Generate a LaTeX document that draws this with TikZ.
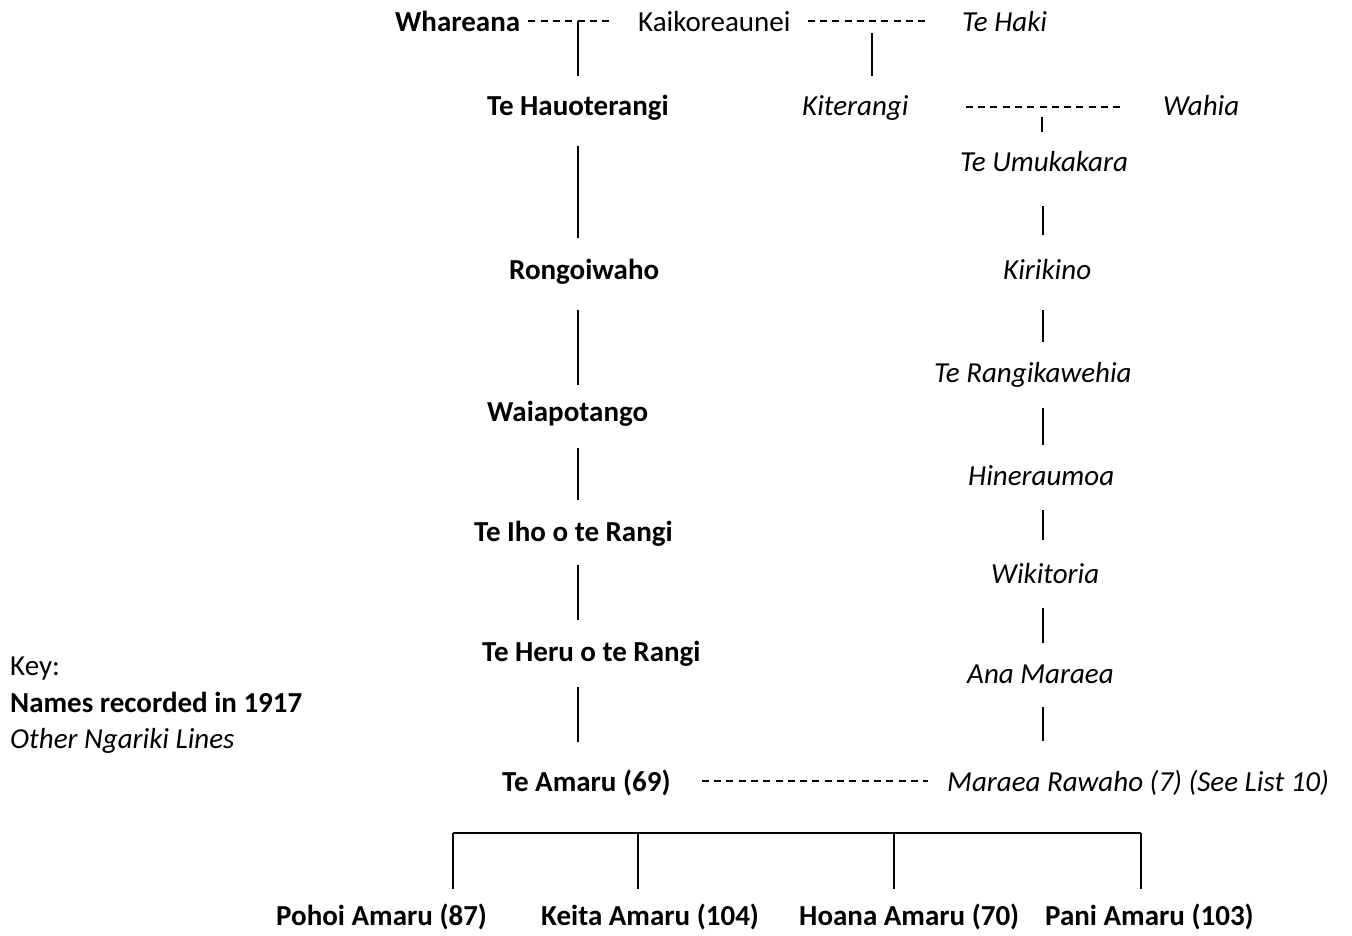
\documentclass[tikz,border=0pt]{standalone}
\usepackage{fontspec}
\setmainfont{Carlito}
\usetikzlibrary{calc}
\begin{document}
\begin{tikzpicture}[x=1pt,y=1pt,
  every node/.style={inner sep=0pt,anchor=base west,font=\fontsize{29}{36}\selectfont},
  rec/.style={font=\fontsize{29}{36}\selectfont\bfseries},
  other/.style={font=\fontsize{29}{36}\selectfont\itshape},
  kin/.style={line width=1.8pt},
  union/.style={line width=1.4pt,dash pattern=on 7pt off 5.3pt}]
\useasboundingbox (0,0) rectangle (1352,-935);

% top generation
\node[rec]   (wh)   at (395,-31) {Whareana};
\node        (kai)  at (638,-31) {Kaikoreaunei};
\node[other] (haki) at (962,-31) {Te Haki};

% second generation
\node[rec]   (hau)   at (487,-115) {Te Hauoterangi};
\node[other] (kit)   at (802,-115) {Kiterangi};
\node[other] (wahia) at (1163,-115) {Wahia};

% main line
\node[rec] (rongo) at (509,-279) {Rongoiwaho};
\node[rec] (waia)  at (487,-421) {Waiapotango};
\node[rec] (iho)   at (474,-541) {Te Iho o te Rangi};
\node[rec] (heru)  at (482,-661) {Te Heru o te Rangi};
\node[rec] (amaru) at (502,-791) {Te Amaru (69)};

% other line
\node[other] (umu)   at (960,-171) {Te Umukakara};
\node[other] (kiri)  at (1003,-279) {Kirikino};
\node[other] (rangi) at (934,-382) {Te Rangikawehia};
\node[other] (hine)  at (968,-485) {Hineraumoa};
\node[other] (wiki)  at (991,-583) {Wikitoria};
\node[other] (ana)   at (967,-683) {Ana Maraea};
\node[other] (mar)   at (947,-791) {Maraea Rawaho (7) (See List 10)};

% children
\node[rec] (pohoi) at (276,-925) {Pohoi Amaru (87)};
\node[rec] (keita) at (541,-925) {Keita Amaru (104)};
\node[rec] (hoana) at (799,-925) {Hoana Amaru (70)};
\node[rec] (pani)  at (1045,-925) {Pani Amaru (103)};

% key
\node (key) at (10,-675) {Key:};
\node[rec] (keyrec) at (10,-712) {Names recorded in 1917};
\node[other] (keyoth) at (10,-748) {Other Ngariki Lines};

% column positions
\coordinate (colL) at (578,0);
\coordinate (colR) at (1043,0);

% unions
\draw[union] ($(wh.base east)+(8,10)$) -- ($(kai.base west)+(-28,10)$);
\draw[union] ($(kai.base east)+(17,10)$) -- ($(haki.base west)+(-34,10)$);
\draw[union] ($(kit.base east)+(57,8)$) -- ($(wahia.base west)+(-38,8)$);
\draw[union] ($(amaru.base east)+(31,10)$) -- ($(mar.base west)+(-19,10)$);

% descent from unions
\coordinate (u1) at (578,-21);
\coordinate (u2) at (872,-33);
\coordinate (u3) at (1042,-117);
\draw[kin] (u1) -- ($(hau.base -| u1)+(0,39)$);
\draw[kin] (u2) -- ($(kit.base -| u2)+(0,39)$);
\draw[kin] (u3) -- ($(umu.base -| u3)+(0,39)$);

% main line descent
\draw[kin] ($(hau.base -| colL)+(0,-31)$)   -- ($(rongo.base -| colL)+(0,41)$);
\draw[kin] ($(rongo.base -| colL)+(0,-31)$) -- ($(waia.base -| colL)+(0,36)$);
\draw[kin] ($(waia.base -| colL)+(0,-27)$)  -- ($(iho.base -| colL)+(0,41)$);
\draw[kin] ($(iho.base -| colL)+(0,-24)$)   -- ($(heru.base -| colL)+(0,41)$);
\draw[kin] ($(heru.base -| colL)+(0,-26)$)  -- ($(amaru.base -| colL)+(0,49)$);

% other line descent
\draw[kin] ($(umu.base -| colR)+(0,-35)$)   -- ($(kiri.base -| colR)+(0,44)$);
\draw[kin] ($(kiri.base -| colR)+(0,-31)$)  -- ($(rangi.base -| colR)+(0,40)$);
\draw[kin] ($(rangi.base -| colR)+(0,-26)$) -- ($(hine.base -| colR)+(0,40)$);
\draw[kin] ($(hine.base -| colR)+(0,-25)$)  -- ($(wiki.base -| colR)+(0,43)$);
\draw[kin] ($(wiki.base -| colR)+(0,-25)$)  -- ($(ana.base -| colR)+(0,40)$);
\draw[kin] ($(ana.base -| colR)+(0,-24)$)   -- ($(mar.base -| colR)+(0,50)$);

% children bracket
\coordinate (b1) at (453,-833);
\coordinate (b2) at (638,-833);
\coordinate (b3) at (894,-833);
\coordinate (b4) at (1141,-833);
\draw[kin] (b1) -- (b4);
\draw[kin] (b1) -- ($(pohoi.base -| b1)+(0,36)$);
\draw[kin] (b2) -- ($(keita.base -| b2)+(0,36)$);
\draw[kin] (b3) -- ($(hoana.base -| b3)+(0,36)$);
\draw[kin] (b4) -- ($(pani.base -| b4)+(0,36)$);
\end{tikzpicture}
\end{document}
